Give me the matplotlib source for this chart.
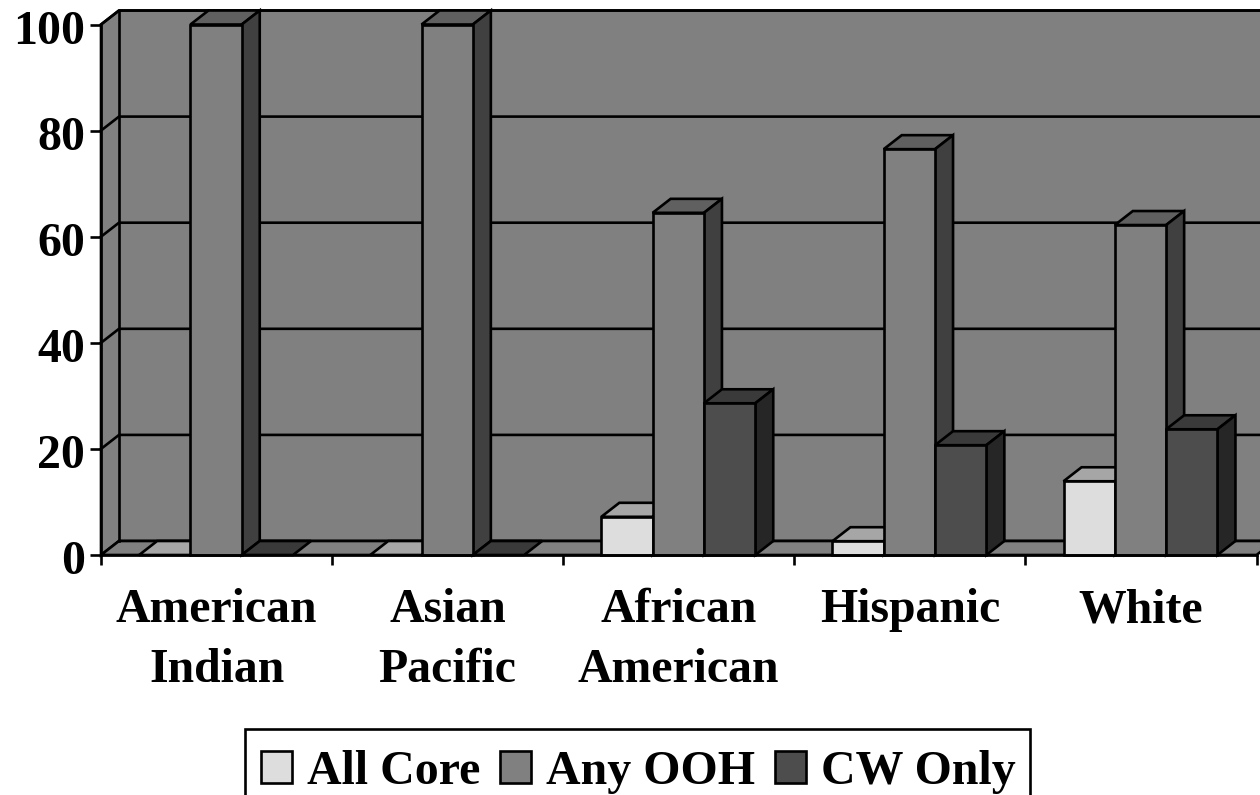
import numpy as np
import matplotlib
matplotlib.use('Agg')
import matplotlib.pyplot as plt
from matplotlib.patches import Patch, Polygon, Rectangle
from matplotlib.transforms import ScaledTranslation

categories = ['American\nIndian', 'Asian\nPacific', 'African\nAmerican', 'Hispanic', 'White']
series_names = ['All Core', 'Any OOH', 'CW Only']
all_core = [0, 0, 7.2, 2.6, 13.9]
any_ooh = [100, 100, 64.5, 76.5, 62.2]
cw_only = [0, 0, 28.6, 20.7, 23.7]
y_ticks = [0, 20, 40, 60, 80, 100]

# front, top, side
colors = [('#DDDDDD', '#A6A6A6', '#6E6E6E'),
          ('#808080', '#606060', '#404040'),
          ('#4D4D4D', '#3A3A3A', '#262626')]
wall = '#808080'
lw = 1.9

W, H = 1260, 795
plt.rcParams['font.family'] = ['Liberation Serif', 'DejaVu Serif']
plt.rcParams['font.weight'] = 'bold'
plt.rcParams['font.size'] = 34.5

fig = plt.figure(figsize=(W / 100, H / 100), dpi=100)
x0, x1, y0, y1 = 101, 1256.5, 555, 24.5
ax = fig.add_axes([x0 / W, 1 - y0 / H, (x1 - x0) / W, (y0 - y1) / H])
ax.set_xlim(0, 5)
ax.set_ylim(0, 100)

# depth of the 3d box and bar size in data units
dx = 18 / ((x1 - x0) / 5)
dy = 14 / ((y0 - y1) / 100)
bar_w = 0.222
margin = 0.165


def poly(pts, color):
    ax.add_patch(Polygon(pts, closed=True, facecolor=color, edgecolor='black',
                         linewidth=lw, clip_on=False, joinstyle='miter', zorder=1))


# walls and floor
poly([(0, 0), (dx, dy), (6, dy), (6, 100 + dy), (dx, 100 + dy), (0, 100)], wall)
poly([(0, 0), (5, 0), (5 + dx, dy), (dx, dy)], wall)
ax.plot([dx, dx], [dy, 100 + dy], color='black', lw=lw, clip_on=False, zorder=1)
for v in y_ticks[1:]:
    ax.plot([0, dx, 6], [v, v + dy, v + dy], color='black', lw=lw, clip_on=False, zorder=1)

# bars, back to front and left to right
for i in range(len(categories)):
    for j, values in enumerate([all_core, any_ooh, cw_only]):
        v = values[i]
        left = i + margin + j * bar_w
        right = left + bar_w
        front, top, side = colors[j]
        poly([(left, v), (right, v), (right + dx, v + dy), (left + dx, v + dy)], top)
        if v > 0:
            poly([(right, 0), (right + dx, dy), (right + dx, v + dy), (right, v)], side)
            poly([(left, 0), (right, 0), (right, v), (left, v)], front)

for s in ['top', 'right']:
    ax.spines[s].set_visible(False)
for s in ['left', 'bottom']:
    ax.spines[s].set_linewidth(lw)

ax.set_yticks(y_ticks)
ax.set_yticklabels([str(v) for v in y_ticks])
ax.tick_params(axis='y', length=8, width=lw, pad=3.5)
for label in ax.get_yticklabels():
    label.set_transform(label.get_transform() + ScaledTranslation(0, -2 / 100, fig.dpi_scale_trans))
ax.set_xticks(range(6))
ax.set_xticklabels([])
ax.tick_params(axis='x', which='major', length=7.5, width=lw)
ax.set_xticks(np.arange(5) + 0.5, minor=True)
ax.set_xticklabels(categories, minor=True, linespacing=1.46, fontsize=34.4)
ax.tick_params(axis='x', which='minor', length=0, pad=24)

# legend box runs off the bottom of the picture
fig.add_artist(Rectangle((245 / W, 1 - 810 / H), 785 / W, 81 / H, transform=fig.transFigure,
                         facecolor='white', edgecolor='black', linewidth=lw))
handles = [Patch(facecolor=colors[k][0], edgecolor='black', linewidth=lw, label=series_names[k])
           for k in range(3)]
fig.legend(handles=handles, ncol=3, loc='upper left', frameon=False, fontsize=34.5,
           bbox_to_anchor=(261 / W, 1 - 750 / H), bbox_transform=fig.transFigure,
           handlelength=0.645, handleheight=0.645, handletextpad=0.31,
           columnspacing=0.42, borderaxespad=0, borderpad=0)

fig.savefig('out.png', dpi=100)
